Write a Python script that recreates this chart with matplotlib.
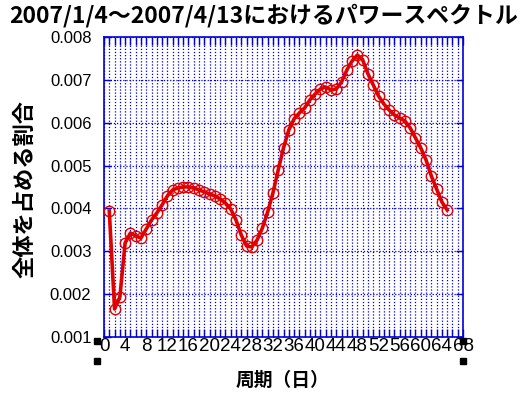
import matplotlib
matplotlib.use('Agg')
import matplotlib.pyplot as plt
import numpy as np
from matplotlib.patches import Rectangle

plt.rcParams['font.family'] = ['Noto Sans CJK JP', 'DejaVu Sans']

# 周期（日）とパワーの割合
period = np.arange(1, 66)
ratio = np.array([
    3.940, 1.653, 1.933, 3.194, 3.427, 3.357, 3.310, 3.520, 3.730, 3.894,
    4.081, 4.291, 4.431, 4.477, 4.501, 4.501, 4.477, 4.431, 4.384, 4.337,
    4.291, 4.221, 4.127, 3.987, 3.730, 3.380, 3.124, 3.100, 3.264, 3.544,
    3.917, 4.361, 4.897, 5.411, 5.831, 6.088, 6.228, 6.344, 6.531, 6.671,
    6.788, 6.834, 6.764, 6.788, 6.951, 7.231, 7.441, 7.581, 7.464, 7.138,
    6.881, 6.624, 6.438, 6.298, 6.181, 6.111, 6.041, 5.877, 5.644, 5.411,
    5.131, 4.757, 4.454, 4.151, 3.964]) / 1000.0

xticks = np.arange(0, 69, 4)
yticks = [0.001, 0.002, 0.003, 0.004, 0.005, 0.006, 0.007, 0.008]

title = '2007/1/4～2007/4/13におけるパワースペクトル'
xlabel = '周期（日）'
ylabel = '全体を占める割合'

blue = '#0000dd'
red = '#e00000'

fig = plt.figure(figsize=(5.27, 3.96), dpi=100)
ax = fig.add_axes([104/527, 1-337/396, (463-104)/527, (337-37)/396])

ax.plot(period, ratio, '-', color=red, lw=2.6, marker='o', ms=7.5,
        mfc='none', mec=red, mew=1.0, zorder=3)

ax.set_xlim(0, 68)
ax.set_ylim(0.001, 0.008)
ax.set_xticks(xticks)
ax.set_xticks(np.arange(0, 69, 1), minor=True)
ax.set_yticks(yticks)
ax.set_xticklabels([str(t) for t in xticks], family='Liberation Sans', fontsize=13.5)
ax.set_yticklabels([f'{t:.3f}' for t in yticks], family='Liberation Sans', fontsize=12)

ax.grid(True, which='both', axis='x', color=blue, ls=(0, (1, 1.5)), lw=0.9)
ax.grid(True, which='major', axis='y', color=blue, ls=(0, (1, 1.5)), lw=0.9)

for s in ax.spines.values():
    s.set_color(blue)
    s.set_linewidth(1.2)

ax.tick_params(axis='x', which='both', direction='in', top=True, bottom=True,
               length=6, color=blue, width=1, pad=1)
ax.tick_params(axis='y', which='major', direction='in', left=True, right=True,
               length=5, color=blue, width=1, pad=9)

fig.text(0.5, 0.99, title, ha='center', va='top', fontsize=16.5, fontweight='bold')
fig.text(282/527, 1-380/396, xlabel, ha='center', va='center', fontsize=13.5, fontweight='bold')
fig.text(25/527, 1-189/396, ylabel, ha='center', va='center', rotation=90,
         fontsize=16, fontweight='bold')

# 選択ハンドル
for hx, hy in [(97, 341), (463, 341), (97, 361), (463, 361)]:
    fig.patches.append(Rectangle(((hx-3)/527, 1-(hy+3)/396), 6/527, 6/396,
                                 transform=fig.transFigure, color='black'))

fig.savefig('out.png', dpi=100)
